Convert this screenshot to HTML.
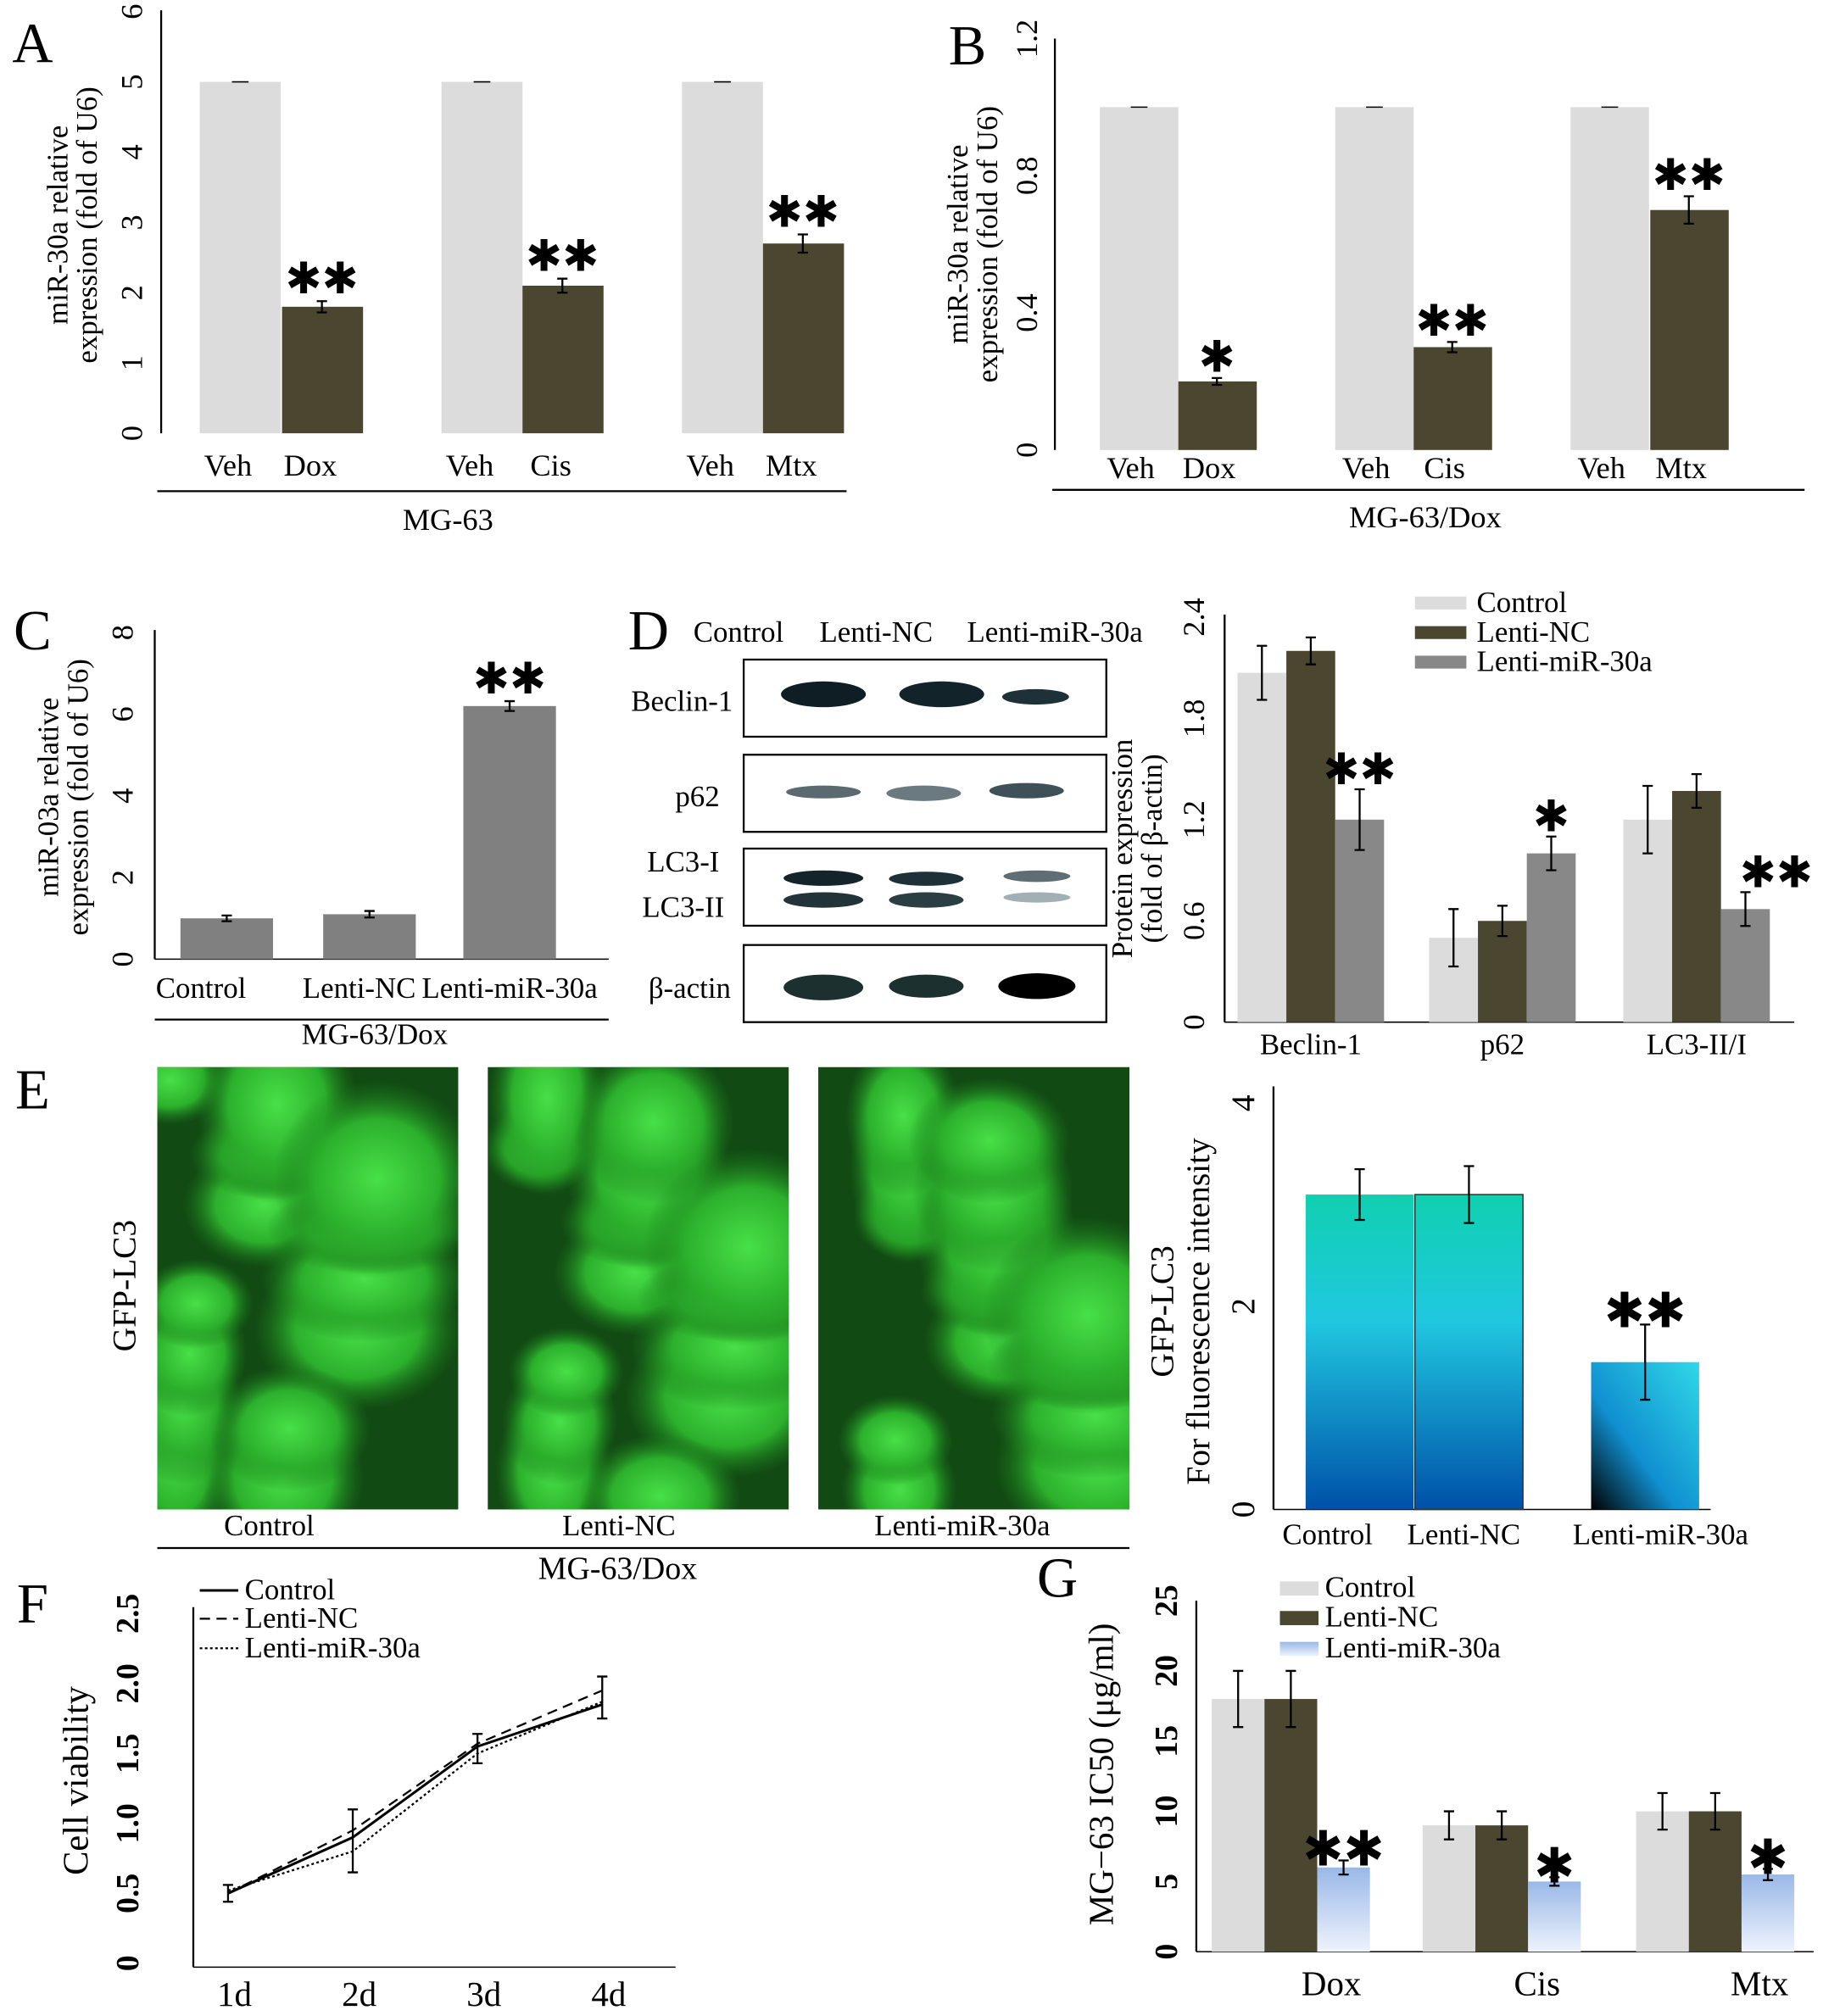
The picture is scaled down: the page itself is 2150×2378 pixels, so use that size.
<!DOCTYPE html>
<html><head><meta charset="utf-8"><style>
html,body{margin:0;padding:0;background:#fff;}
svg{display:block;font-family:"Liberation Serif",serif;}
</style></head><body>
<svg id="fig" xmlns="http://www.w3.org/2000/svg" width="2150" height="2378" viewBox="0 0 1417 1568">
<defs>
<linearGradient id="gE" x1="0" y1="0" x2="0" y2="1"><stop offset="0" stop-color="#10d0b0"/><stop offset="0.4" stop-color="#20c8e0"/><stop offset="1" stop-color="#0050a8"/></linearGradient>
<linearGradient id="gE3" x1="1" y1="0" x2="0" y2="1"><stop offset="0" stop-color="#30d8e8"/><stop offset="0.6" stop-color="#1090d0"/><stop offset="1" stop-color="#000"/></linearGradient>
<linearGradient id="gG" x1="0" y1="0" x2="0" y2="1"><stop offset="0" stop-color="#9ab8e8"/><stop offset="1" stop-color="#eef3fc"/></linearGradient>
<radialGradient id="cell"><stop offset="0" stop-color="#48e048"/><stop offset="0.6" stop-color="#2cb02c"/><stop offset="1" stop-color="#1a7a1a" stop-opacity="0"/></radialGradient>
<clipPath id="clip0"><rect x="122" y="830" width="234" height="344"/></clipPath>
<clipPath id="clip1"><rect x="379" y="830" width="234" height="344"/></clipPath>
<clipPath id="clip2"><rect x="636" y="830" width="242" height="344"/></clipPath>
</defs>
</svg>
<script>
// ---------- data ----------
const aCats = ["Veh","Dox","Veh","Cis","Veh","Mtx"];
const aVals = [5,1.8,5,2.1,5,2.7];
const aErr = [0,0.08,0,0.1,0,0.13];
const aStars = ["","**","","**","","**"];
const aTicks = [0,1,2,3,4,5,6];
const bCats = ["Veh","Dox","Veh","Cis","Veh","Mtx"];
const bVals = [1,0.2,1,0.3,1,0.7];
const bErr = [0,0.01,0,0.015,0,0.04];
const bStars = ["","*","","**","","**"];
const bTicks = [0,0.4,0.8,1.2];
const cCats = ["Control","Lenti-NC","Lenti-miR-30a"];
const cVals = [1.0,1.1,6.2];
const cErr = [0.07,0.08,0.12];
const cTicks = [0,2,4,6,8];
const dGroups = ["Beclin-1","p62","LC3-II/I"];
const dControl = [2.07,0.5,1.2];
const dNC = [2.2,0.6,1.37];
const dMiR = [1.2,1.0,0.67];
const dErrC = [0.16,0.17,0.2];
const dErrN = [0.08,0.09,0.1];
const dErrM = [0.18,0.1,0.1];
const dStars = ["**","*","**"];
const dTicks = [0,0.6,1.2,1.8,2.4];
const eCats = ["Control","Lenti-NC","Lenti-miR-30a"];
const eVals = [3.1,3.1,1.45];
const eErr = [0.25,0.28,0.37];
const eTicks = [0,2,4];
const fDays = ["1d","2d","3d","4d"];
const fControl = [0.5,0.9,1.55,1.85];
const fNC = [0.5,0.95,1.57,1.95];
const fMiR = [0.52,0.8,1.5,1.87];
const fErr = [0.06,0.15,0.07,0.1];
const fTicks = [0,0.5,1.0,1.5,2.0,2.5];
const gGroups = ["Dox","Cis","Mtx"];
const gControl = [18,9,10];
const gNC = [18,9,10];
const gMiR = [6,5,5.5];
const gErr = [2,1,1.3];
const gErrM = [0.5,0.3,0.4];
const gStars = ["**","*","*"];
const gTicks = [0,5,10,15,20,25];

const svg = document.getElementById('fig');
const NS = 'http://www.w3.org/2000/svg';
function mk(tag, at, txt){const e=document.createElementNS(NS,tag);for(const k in at)e.setAttribute(k,at[k]);if(txt!==undefined)e.textContent=txt;svg.appendChild(e);return e;}
function lin(d0,d1,p0,p1){return v=>p0+(v-d0)*(p1-p0)/(d1-d0);}
function errbar(x,y1,y2,name){const e=mk('path',{d:`M${x},${y1}V${y2}M${x-4},${y1}H${x+4}M${x-4},${y2}H${x+4}`,stroke:'#000','stroke-width':1.5,fill:'none'});}
function txt(x,y,s,size,name,extra){const t=mk('text',Object.assign({x:x,y:y,'font-size':size,'text-anchor':'middle'},extra||{}),s);return t;}
function vtick(x,y,s,size,name,extra){const t=mk('text',Object.assign({x:0,y:0,'font-size':size,'text-anchor':'middle',transform:`translate(${x},${y}) rotate(-90)`},extra||{}),s);return t;}
function line(x1,y1,x2,y2,name,w){const l=mk('line',{x1,y1,x2,y2,stroke:'#000','stroke-width':w||1.5});}
function rect(x,y,w,h,fill,name,extra){const r=mk('rect',Object.assign({x,y,width:w,height:h,fill},extra||{}));return r;}

// Panel letters
[["A",8,48],["B",735,50],["C",8,505],["D",487,505],["E",8,862],["F",8,1262],["G",805,1242]].forEach(p=>{txt(p[1]+17,p[2],p[0],44,'panel-label-'+p[0].toLowerCase());});

// ---------- Panel A ----------
{const y=lin(0,6,337,9);line(125,8,125,337,'a-y-axis');
aTicks.forEach(t=>{vtick(110,y(t),String(t),24,'a-y-tick');});
const xs=[155,219,343,406,530,593];
aVals.forEach((v,i)=>{rect(xs[i],y(v),63,y(0)-y(v),i%2?'#4a4630':'#dcdcdc','a-bar-'+aCats[i].toLowerCase());
if(aErr[i])errbar(xs[i]+31,y(v+aErr[i]),y(v-aErr[i]),'a-error-bar');else line(xs[i]+25,y(v),xs[i]+38,y(v),'a-cap',1);
if(aStars[i])txt(xs[i]+31,y(v+aErr[i])-6,aStars[i].replace(/\*/g,'✱'),34,'a-significance');
txt(xs[i]+22,370,aCats[i],24,'a-x-label');});
line(122,382,658,382,'a-group-line');txt(348,412,'MG-63',24,'a-group-label');
vtick(52,175,'miR-30a relative',23,'a-y-title');vtick(75,175,'expression (fold of U6)',23,'a-y-title');}

// ---------- Panel B ----------
{const y=lin(0,1.2,350,30);line(820,30,820,350,'b-y-axis');
bTicks.forEach(t=>{vtick(806,y(t),String(t),24,'b-y-tick');});
const xs=[855,916,1038,1099,1221,1283];
bVals.forEach((v,i)=>{rect(xs[i],y(v),61,y(0)-y(v),i%2?'#4a4630':'#dcdcdc','b-bar-'+bCats[i].toLowerCase());
if(bErr[i])errbar(xs[i]+30,y(v+bErr[i]),y(v-bErr[i]),'b-error-bar');else line(xs[i]+24,y(v),xs[i]+37,y(v),'b-cap',1);
if(bStars[i])txt(xs[i]+30,y(v+bErr[i])-5,bStars[i].replace(/\*/g,'✱'),34,'b-significance');
txt(xs[i]+24,372,bCats[i],24,'b-x-label');});
line(818,381,1403,381,'b-group-line');txt(1108,410,'MG-63/Dox',24,'b-group-label');
vtick(752,190,'miR-30a relative',23,'b-y-title');vtick(775,190,'expression (fold of U6)',23,'b-y-title');}

// ---------- Panel C ----------
{const y=lin(0,8,746,492);line(120,490,120,746,'c-y-axis');line(120,746,473,746,'c-x-axis',1);
cTicks.forEach(t=>{vtick(103,y(t),String(t),24,'c-y-tick');});
const xs=[140,251,360];
cVals.forEach((v,i)=>{rect(xs[i],y(v),72,y(0)-y(v),'#808080','c-bar-'+i);errbar(xs[i]+36,y(v+cErr[i]),y(v-cErr[i]),'c-error-bar');
txt(xs[i]+36+(i==0?-20:i==1?-8:0),776,cCats[i],23,'c-x-label');});
txt(396,y(6.2+0.12)-6,'✱✱',34,'c-significance');
line(120,793,473,793,'c-group-line');txt(291,812,'MG-63/Dox',23,'c-group-label');
vtick(45,620,'miR-03a relative',23,'c-y-title');vtick(68,620,'expression (fold of U6)',23,'c-y-title');}

// ---------- Panel D blot ----------
txt(574,499,'Control',23,'d-blot-header');txt(681,499,'Lenti-NC',23,'d-blot-header');txt(820,499,'Lenti-miR-30a',23,'d-blot-header');
[[513,'Beclin-1'],[587,'p62'],[660,'LC3'],[735,'β-actin']].forEach((b,k)=>{rect(578,b[0],282,60,'#fff','d-blot-box-'+k,{stroke:'#000','stroke-width':1.5});});
txt(530,553,'Beclin-1',23,'d-blot-label');txt(542,627,'p62',23,'d-blot-label');txt(531,678,'LC3-I',23,'d-blot-label');txt(531,713,'LC3-II',23,'d-blot-label');txt(536,776,'β-actin',23,'d-blot-label');
[[640,530,66,20,'#0e1e24'],[732,530,66,20,'#12242a'],[805,536,52,12,'#1e3038'],
 [640,611,58,10,'#5a6a70'],[718,611,58,12,'#6a7a80'],[798,609,58,12,'#3e5058'],
 [640,677,62,12,'#14242a'],[720,678,58,11,'#1e3038'],[806,677,52,9,'#5e6e74'],
 [640,694,62,12,'#22343a'],[720,694,58,12,'#2a3e44'],[806,694,52,8,'#a0b0b4'],
 [640,758,62,20,'#1c3030'],[720,758,58,18,'#1c3030'],[806,757,60,20,'#000']].forEach((b,k)=>{const e=mk('ellipse',{cx:b[0],cy:b[1]+b[3]/2,rx:b[2]/2,ry:b[3]/2,fill:b[4]});});

// ---------- Panel D chart ----------
{const y=lin(0,2.4,795,480);line(952,478,952,795,'d-y-axis');line(952,795,1395,795,'d-x-axis',1);
dTicks.forEach(t=>{vtick(936,y(t),String(t),24,'d-y-tick');});
const gx=[962,1111,1262],w=38;
dGroups.forEach((g,i)=>{const x=gx[i];
rect(x,y(dControl[i]),w,y(0)-y(dControl[i]),'#dcdcdc','d-bar-control');
rect(x+w,y(dNC[i]),w,y(0)-y(dNC[i]),'#4a4630','d-bar-lenti-nc');
rect(x+2*w,y(dMiR[i]),w,y(0)-y(dMiR[i]),'#888','d-bar-lenti-mir30a');
errbar(x+w/2,y(dControl[i]+dErrC[i]),y(dControl[i]-dErrC[i]),'d-error-bar');
errbar(x+1.5*w,y(dNC[i]+dErrN[i]),y(dNC[i]-dErrN[i]),'d-error-bar');
errbar(x+2.5*w,y(dMiR[i]+dErrM[i]),y(dMiR[i]-dErrM[i]),'d-error-bar');
txt(x+2.5*w+(i==2?24:0),y(dMiR[i]+dErrM[i])-4,dStars[i].replace(/\*/g,'✱'),34,'d-significance');
txt(x+57,820,g,23,'d-x-label');});
vtick(880,660,'Protein expression',23,'d-y-title');vtick(903,660,'(fold of β-actin)',23,'d-y-title');
[['#dcdcdc','Control',474],['#4a4630','Lenti-NC',497],['#888','Lenti-miR-30a',520]].forEach(l=>{rect(1100,l[2]-10,40,10,l[0],'d-legend-swatch');txt(1148,l[2]+2,l[1],23,'d-legend-label',{'text-anchor':'start'});});}

// ---------- Panel E images ----------
[[122,234],[379,234],[636,242]].forEach((im,k)=>{rect(im[0],830,im[1],344,'#124a14','e-image-'+k);
for(let j=0;j<14;j++){const e=mk('ellipse',{cx:im[0]+10+((j*73+k*31)%(im[1]-20)),cy:840+((j*97+k*53)%330),rx:45+(j%3)*18,ry:35+(j%4)*14,fill:'url(#cell)','clip-path':'url(#clip'+k+')'});}});
vtick(105,1000,'GFP-LC3',26,'e-image-title');
txt(209,1194,'Control',23,'e-image-label');txt(481,1194,'Lenti-NC',23,'e-image-label');txt(748,1194,'Lenti-miR-30a',23,'e-image-label');
line(122,1204,878,1204,'e-group-line');txt(480,1228,'MG-63/Dox',25,'e-group-label');

// ---------- Panel E chart ----------
{const y=lin(0,4,1174,858);line(990,845,990,1174,'e-y-axis');line(990,1174,1330,1174,'e-x-axis',1);
eTicks.forEach(t=>{vtick(975,y(t),String(t),26,'e-y-tick');});
const xs=[1015,1100,1237],fills=['url(#gE)','url(#gE)','url(#gE3)'];
eVals.forEach((v,i)=>{rect(xs[i],y(v),84,y(0)-y(v),fills[i],'e-bar-'+i,{stroke:i==1?'#333':'none','stroke-width':1});errbar(xs[i]+42,y(v+eErr[i]),y(v-eErr[i]),'e-error-bar');});
txt(1279,y(1.45+0.37)+2,'✱✱',38,'e-significance');
txt(1032,1201,eCats[0],23,'e-x-label');txt(1138,1201,eCats[1],23,'e-x-label');txt(1291,1201,eCats[2],23,'e-x-label');
vtick(912,1020,'GFP-LC3',26,'e-y-title');vtick(940,1020,'For fluorescence intensity',26,'e-y-title');}

// ---------- Panel F ----------
{const y=lin(0,2.5,1527,1255);const xp=[177,274,371,468];line(150,1250,150,1530,'f-y-axis');line(150,1530,525,1530,'f-x-axis',1);
fTicks.forEach(t=>{vtick(107,y(t),t.toFixed(1).replace('0.0','0'),25,'f-y-tick',{'font-weight':'bold'});});
fDays.forEach((d,i)=>{txt(xp[i]+5,1560,d,27,'f-x-label');});
[[fControl,'','f-line-control',2],[fNC,'8,5','f-line-lenti-nc',1.5],[fMiR,'2,2','f-line-lenti-mir30a',1.5]].forEach(s=>{const p=mk('polyline',{points:s[0].map((v,i)=>xp[i]+','+y(v)).join(' '),fill:'none',stroke:'#000','stroke-width':s[3],'stroke-dasharray':s[1]});});
fNC.forEach((v,i)=>{errbar(xp[i],y(v+fErr[i]),y(Math.min(fMiR[i],fControl[i])-fErr[i]),'f-error-bar');});
vtick(68,1385,'Cell viability',28,'f-y-title');
[['','Control',1242,2],['8,5','Lenti-NC',1264,1.5],['2,2','Lenti-miR-30a',1287,1.5]].forEach(l=>{const e=mk('line',{x1:155,y1:l[2]-5,x2:185,y2:l[2]-5,stroke:'#000','stroke-width':l[3],'stroke-dasharray':l[0]});txt(190,l[2]+2,l[1],23,'f-legend-label',{'text-anchor':'start'});});}

// ---------- Panel G ----------
{const y=lin(0,25,1518,1245);line(930,1245,930,1518,'g-y-axis');line(930,1518,1410,1518,'g-x-axis',1);
gTicks.forEach(t=>{vtick(915,y(t),String(t),25,'g-y-tick',{'font-weight':'bold'});});
const gx=[942,1106,1272],w=41,lx=[1035,1195,1368];
gGroups.forEach((g,i)=>{const x=gx[i];
rect(x,y(gControl[i]),w,y(0)-y(gControl[i]),'#dcdcdc','g-bar-control');
rect(x+w,y(gNC[i]),w,y(0)-y(gNC[i]),'#4a4630','g-bar-lenti-nc');
rect(x+2*w,y(gMiR[i]),w,y(0)-y(gMiR[i]),'url(#gG)','g-bar-lenti-mir30a');
errbar(x+w/2,y(gControl[i]+gErr[i]),y(gControl[i]-gErr[i]),'g-error-bar');
errbar(x+1.5*w,y(gNC[i]+gErr[i]),y(gNC[i]-gErr[i]),'g-error-bar');
errbar(x+2.5*w,y(gMiR[i]+gErrM[i]),y(gMiR[i]-gErrM[i]),'g-error-bar');
txt(x+2.5*w,y(gMiR[i]+gErrM[i])+4,gStars[i].replace(/\*/g,'✱'),38,'g-significance');
txt(lx[i],1552,g,27,'g-x-label');});
vtick(865,1380,'MG−63   IC50 (μg/ml)',27,'g-y-title');
[['#dcdcdc','Control',1240],['#4a4630','Lenti-NC',1263],['url(#gG)','Lenti-miR-30a',1287]].forEach(l=>{rect(995,l[2]-10,30,11,l[0],'g-legend-swatch');txt(1030,l[2]+2,l[1],23,'g-legend-label',{'text-anchor':'start'});});}
</script>
</body></html>
